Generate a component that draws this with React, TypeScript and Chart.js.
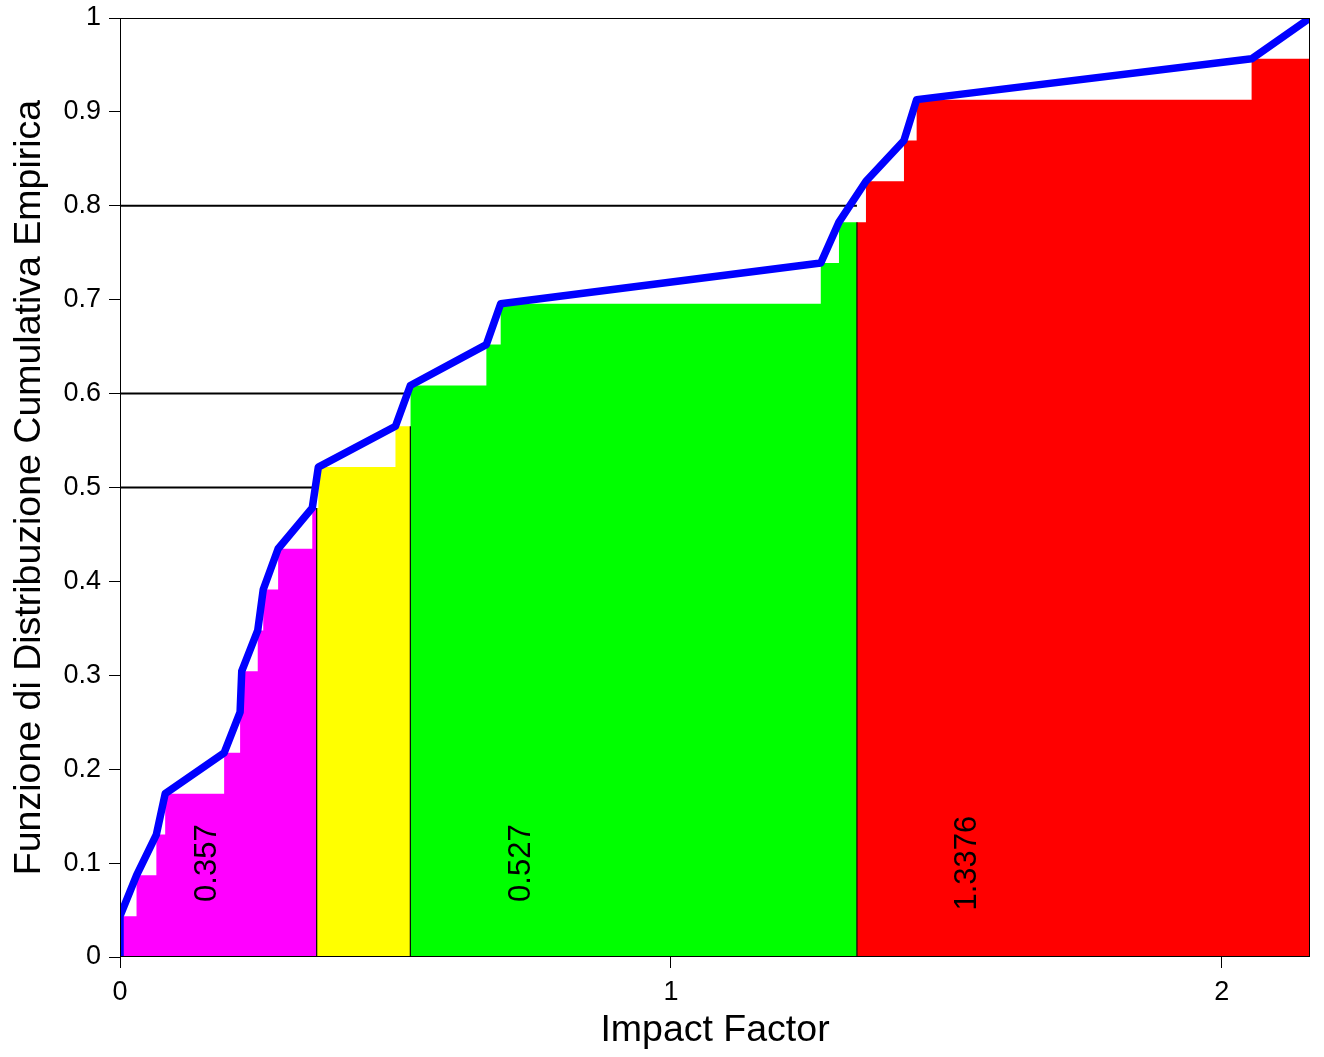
import React, { useEffect, useRef } from "react";
import { Chart, registerables } from "chart.js";

Chart.register(...registerables);

// Sorted impact factors (empirical sample, n = 23)
const impactFactors = [
  0.0, 0.03, 0.066, 0.082, 0.189, 0.218, 0.221, 0.25, 0.26, 0.287, 0.349, 0.36,
  0.5, 0.527, 0.665, 0.691, 1.272, 1.305, 1.354, 1.423, 1.446, 2.054, 2.16,
];
// Quantiles (probabilities and values) marking the coloured regions
const quantileProbs = [0.5, 0.6, 0.8];
const quantileValues = [0.357, 0.527, 1.3376];
const quantileLabels = ["0.357", "0.527", "1.3376"];
const quantileLabelX = [0.158, 0.728, 1.539];
const quantileLabelY = 0.1;
const regionColors = ["#ff00ff", "#ffff00", "#00ff00", "#ff0000"];
const xTicks = [0, 1, 2];
const yTicks = [0, 0.1, 0.2, 0.3, 0.4, 0.5, 0.6, 0.7, 0.8, 0.9, 1];
const xMin = 0;
const xMax = 2.16;
const xTitle = "Impact Factor";
const yTitle = "Funzione di Distribuzione Cumulativa Empirica";

const FONT = "'Liberation Sans', Arial, Helvetica, sans-serif";

const n = impactFactors.length;
const F = (x: number) => impactFactors.filter((v) => v <= x).length / n;
const Fminus = (x: number) => impactFactors.filter((v) => v < x).length / n;

function regionPoints(lo: number, hi: number) {
  const pts = [{ x: lo, y: F(lo) }];
  impactFactors.forEach((v) => {
    if (v > lo && v < hi) pts.push({ x: v, y: F(v) });
  });
  pts.push({ x: hi, y: Fminus(hi) });
  return pts;
}

export default function App() {
  const ref = useRef<HTMLCanvasElement | null>(null);

  useEffect(() => {
    document.body.style.margin = "0";
    const canvas = ref.current;
    if (!canvas) return;

    const bounds = [xMin, ...quantileValues, xMax];
    const fillSets = regionColors.map((c, i) => ({
      type: "line" as const,
      data: regionPoints(bounds[i], bounds[i + 1]),
      stepped: true,
      fill: "origin",
      backgroundColor: c,
      borderWidth: 0,
      borderColor: "rgba(0,0,0,0)",
      pointRadius: 0,
      order: 5,
      clip: 0,
    }));

    const hLines = quantileProbs.map((p, i) => ({
      type: "line" as const,
      data: [
        { x: xMin, y: p },
        { x: quantileValues[i], y: p },
      ],
      borderColor: "#000000",
      borderWidth: 2,
      pointRadius: 0,
      fill: false,
      order: 2,
      clip: 0,
    }));

    const vLines = quantileValues.map((q) => ({
      type: "line" as const,
      data: [
        { x: q, y: 0 },
        { x: q, y: Fminus(q) },
      ],
      borderColor: "#000000",
      borderWidth: 1.2,
      pointRadius: 0,
      fill: false,
      order: 3,
      clip: 0,
    }));

    const ecdfLine = {
      type: "line" as const,
      data: [{ x: impactFactors[0], y: 0 }].concat(
        impactFactors.map((v, i) => ({ x: v, y: (i + 1) / n }))
      ),
      borderColor: "#0000ff",
      borderWidth: 7.5,
      borderJoinStyle: "round",
      borderCapStyle: "round",
      pointRadius: 0,
      fill: false,
      tension: 0,
      order: 0,
      clip: 0,
    };

    const framePlugin = {
      id: "frameAndLabels",
      afterDatasetsDraw(chart: any) {
        const { ctx, chartArea, scales } = chart;
        ctx.save();
        ctx.strokeStyle = "#000000";
        ctx.lineWidth = 1;
        ctx.strokeRect(
          Math.round(chartArea.left) + 0.5,
          Math.round(chartArea.top) + 0.5,
          Math.round(chartArea.right - chartArea.left) - 1,
          Math.round(chartArea.bottom - chartArea.top) - 1
        );
        ctx.fillStyle = "#000000";
        ctx.font = `31px ${FONT}`;
        ctx.textAlign = "center";
        ctx.textBaseline = "middle";
        quantileLabels.forEach((t, i) => {
          const px = scales.x.getPixelForValue(quantileLabelX[i]);
          const py = scales.y.getPixelForValue(quantileLabelY);
          ctx.save();
          ctx.translate(px, py);
          ctx.rotate(-Math.PI / 2);
          ctx.fillText(t, 0, 0);
          ctx.restore();
        });
        ctx.restore();
      },
    };

    const chart = new Chart(canvas, {
      type: "scatter",
      data: { datasets: [ecdfLine, ...hLines, ...vLines, ...fillSets] as any },
      options: {
        responsive: false,
        animation: false,
        devicePixelRatio: 1,
        layout: { padding: { top: 18, right: 14, left: 0, bottom: 0 } },
        plugins: {
          legend: { display: false },
          tooltip: { enabled: false },
        },
        scales: {
          x: {
            type: "linear",
            min: xMin,
            max: xMax,
            afterBuildTicks: (s: any) => {
              s.ticks = xTicks.map((v) => ({ value: v }));
            },
            afterFit: (s: any) => {
              s.height = 100;
              s.paddingLeft = 0;
              s.paddingRight = 0;
            },
            ticks: {
              color: "#000000",
              font: { family: FONT, size: 27 },
              padding: 8,
              maxRotation: 0,
              callback: (v: any) => String(v),
            },
            grid: {
              drawOnChartArea: false,
              drawTicks: true,
              tickLength: 11,
              color: "#000000",
              lineWidth: 1,
            },
            border: { display: false },
            title: {
              display: true,
              text: xTitle,
              color: "#000000",
              font: { family: FONT, size: 37.5 },
              padding: { top: 0, bottom: 4 },
            },
          },
          y: {
            type: "linear",
            min: 0,
            max: 1,
            afterBuildTicks: (s: any) => {
              s.ticks = yTicks.map((v) => ({ value: v }));
            },
            afterFit: (s: any) => {
              s.width = 120;
              s.paddingTop = 0;
              s.paddingBottom = 0;
            },
            ticks: {
              color: "#000000",
              font: { family: FONT, size: 27 },
              padding: 8,
              callback: (v: any) => String(Math.round(Number(v) * 10) / 10),
            },
            grid: {
              drawOnChartArea: false,
              drawTicks: true,
              tickLength: 11,
              color: "#000000",
              lineWidth: 1,
            },
            border: { display: false },
            title: {
              display: true,
              text: yTitle,
              color: "#000000",
              font: { family: FONT, size: 37.5 },
              padding: { top: 7, bottom: 0 },
            },
          },
        },
      } as any,
      plugins: [framePlugin],
    });

    return () => chart.destroy();
  }, []);

  return (
    <div style={{ width: 1324, height: 1057 }}>
      <canvas ref={ref} width={1324} height={1057} />
    </div>
  );
}
